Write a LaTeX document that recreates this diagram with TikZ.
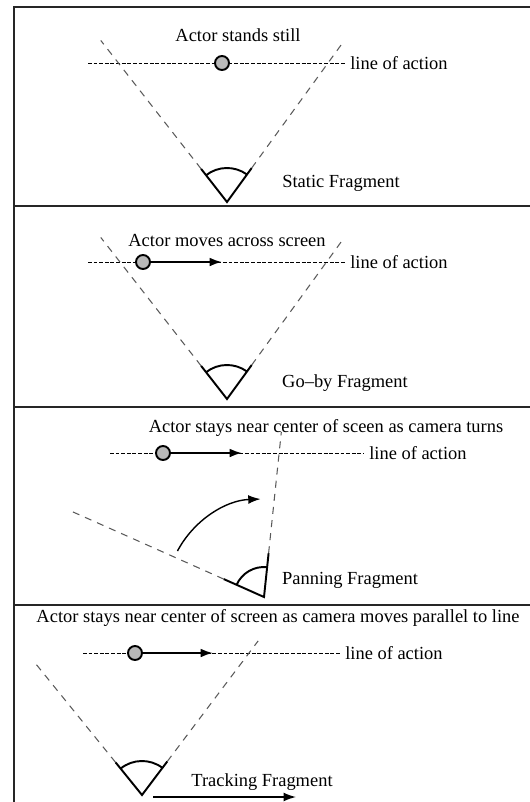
\documentclass[tikz,border=0pt]{standalone}
\usepackage{fontspec}
\setmainfont{Liberation Serif}
\usetikzlibrary{arrows.meta,calc}

\begin{document}
\begin{tikzpicture}[x=0.02cm,y=-0.02cm,
  sight/.style={gray!70!black,line width=0.6pt,dash pattern=on 4pt off 3.5pt},
  action/.style={line width=0.5pt,dash pattern=on 2.2pt off 1pt},
  actor/.style={circle,draw,fill=gray!55,minimum size=0.28cm,inner sep=0pt,line width=1.1pt},
  move/.style={line width=1.2pt,-{Latex[length=7pt,width=5pt]}},
  eye/.style={line width=1.1pt},
  lbl/.style={font=\fontsize{10.5}{12}\selectfont,inner sep=1pt},
  frame/.style={line width=1.5pt,gray!30!black}]
  \useasboundingbox (0,0) rectangle (530,802);
  % Frame and separators
  \draw[frame] (14,802) -- (14,7) -- (530,7);
  \foreach \y in {206,407,605}
    \draw[frame] (14,\y) -- (530,\y);

  % Static fragment
  \node[lbl] (t1) at (238,35) {Actor stands still};
  \coordinate (a1) at (88,63);
  \node[lbl,anchor=west,outer sep=2pt] (l1) at (345,63) {line of action};
  \draw[action] (a1) -- (l1.west);
  \node[actor] (p1) at (222,63) {};
  \coordinate (e1) at (227,202);
  \path (e1) ++(-128:42) coordinate (e1l) ++(-128:163) coordinate (s1l);
  \path (e1) ++(-54:42) coordinate (e1r) ++(-54:156) coordinate (s1r);
  \draw[sight] (e1l) -- (s1l);
  \draw[sight] (e1r) -- (s1r);
  \draw[eye] (e1l) -- (e1) -- (e1r);
  \draw[eye] (e1) ++(-128:34) arc[start angle=-128,end angle=-54,radius=34];
  \node[lbl] (c1) at (341,183) {Static Fragment};

  % Go-by fragment
  \node[lbl] (t2) at (227,240) {Actor moves across screen};
  \coordinate (a2) at (88,262);
  \node[lbl,anchor=west,outer sep=2pt] (l2) at (345,262) {line of action};
  \draw[action] (a2) -- (l2.west);
  \node[actor] (p2) at (143,262) {};
  \coordinate (m2) at (222,262);
  \draw[move] (p2) -- (m2);
  \coordinate (e2) at (227,399);
  \path (e2) ++(-128:42) coordinate (e2l) ++(-128:163) coordinate (s2l);
  \path (e2) ++(-54:42) coordinate (e2r) ++(-54:156) coordinate (s2r);
  \draw[sight] (e2l) -- (s2l);
  \draw[sight] (e2r) -- (s2r);
  \draw[eye] (e2l) -- (e2) -- (e2r);
  \draw[eye] (e2) ++(-128:34) arc[start angle=-128,end angle=-54,radius=34];
  \node[lbl] (c2) at (345,383) {Go--by Fragment};

  % Panning fragment
  \node[lbl] (t3) at (326,428) {Actor stays near center of sceen as camera turns};
  \coordinate (a3) at (110,453);
  \node[lbl,anchor=west,outer sep=2pt] (l3) at (364,453) {line of action};
  \draw[action] (a3) -- (l3.west);
  \node[actor] (p3) at (163,453) {};
  \coordinate (m3) at (242,453);
  \draw[move] (p3) -- (m3);
  \coordinate (e3) at (264,597);
  \path (e3) ++(-156:44) coordinate (e3l) ++(-156:167) coordinate (s3l);
  \path (e3) ++(-84:44) coordinate (e3r) ++(-84:122) coordinate (s3r);
  \draw[sight] (e3l) -- (s3l);
  \draw[sight] (e3r) -- (s3r);
  \draw[eye] (e3l) -- (e3) -- (e3r);
  \draw[eye] (e3) ++(-156:30) arc[start angle=-156,end angle=-84,radius=30];
  \draw[line width=0.8pt,-{Latex[length=7pt,width=5pt]}]
    (e3) ++(-152:98) arc[start angle=-152,end angle=-92,radius=98];
  \node[lbl] (c3) at (350,580) {Panning Fragment};

  % Tracking fragment
  \node[lbl] (t4) at (278,618) {Actor stays near center of screen as camera moves parallel to line};
  \coordinate (a4) at (83,653);
  \node[lbl,anchor=west,outer sep=2pt] (l4) at (340,653) {line of action};
  \draw[action] (a4) -- (l4.west);
  \node[actor] (p4) at (135,653) {};
  \coordinate (m4) at (213,653);
  \draw[move] (p4) -- (m4);
  \coordinate (e4) at (142,795);
  \path (e4) ++(-129:42) coordinate (e4l) ++(-129:129) coordinate (s4l);
  \path (e4) ++(-53:42) coordinate (e4r) ++(-53:151) coordinate (s4r);
  \draw[sight] (e4l) -- (s4l);
  \draw[sight] (e4r) -- (s4r);
  \draw[eye] (e4l) -- (e4) -- (e4r);
  \draw[eye] (e4) ++(-129:34) arc[start angle=-129,end angle=-53,radius=34];
  \node[lbl] (c4) at (262,782) {Tracking Fragment};
  \coordinate (k1) at (153,797);
  \coordinate (k2) at (296,797);
  \draw[line width=0.8pt,-{Latex[length=7pt,width=5pt]}] (k1) -- (k2);
\end{tikzpicture}
\end{document}
